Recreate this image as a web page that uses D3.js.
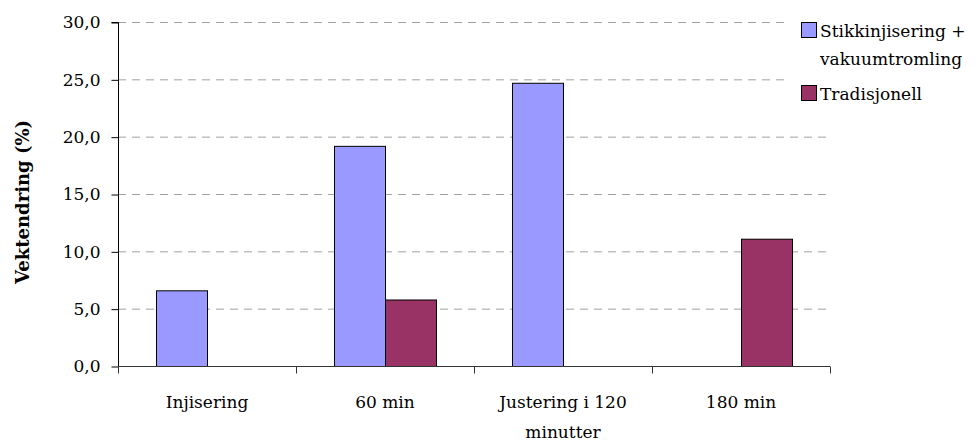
<!DOCTYPE html>
<html>
<head>
<meta charset="utf-8">
<script src="https://cdn.jsdelivr.net/npm/d3@7"></script>
<style>
  html, body { margin: 0; padding: 0; background: #fff; }
  svg { display: block; }
  svg text { font-family: "DejaVu Serif", serif !important; fill: #000; }
</style>
</head>
<body>
<svg id="chart" width="976" height="441"></svg>
<script>
// ---- data ----
const categories = ["Injisering", "60 min", "Justering i 120 minutter", "180 min"];
const seriesNames = ["Stikkinjisering + vakuumtromling", "Tradisjonell"];
const stikkValues = [6.6, 19.2, 24.7, null];
const tradValues = [null, 5.8, null, 11.1];
const yTicks = [0, 5, 10, 15, 20, 25, 30];
const yTitle = "Vektendring (%)";

const seriesValues = [stikkValues, tradValues];
const colors = ["#9999FF", "#993366"];

const svg = d3.select("#chart");
const mLeft = 118, mRight = 830, mTop = 22, mBottom = 366;

const x = d3.scaleBand().domain(categories).range([mLeft, mRight]).paddingInner(0).paddingOuter(0);
const xs = d3.scaleBand().domain(seriesNames).range([0, x.bandwidth()]).paddingInner(0).paddingOuter(0.745);
const y = d3.scaleLinear().domain([0, 30]).range([mBottom, mTop]);

const fontSize = 17;
const ls = 0;

// gridlines
svg.append("g").selectAll("line")
  .data(yTicks.filter(d => d > 0))
  .join("line")
  .attr("x1", mLeft).attr("x2", mRight)
  .attr("y1", d => y(d) + 0.5).attr("y2", d => y(d) + 0.5)
  .attr("stroke", "#a0a0a0").attr("stroke-width", 1)
  .attr("stroke-dasharray", "8,6");

// bars
const data = [];
categories.forEach((c, i) => {
  seriesNames.forEach((s, j) => {
    const v = seriesValues[j][i];
    if (v != null) data.push({c, s, v, j});
  });
});
svg.append("g").selectAll("rect")
  .data(data)
  .join("rect")
  .attr("x", d => x(d.c) + xs(d.s) + 0.5)
  .attr("y", d => y(d.v) + 0.5)
  .attr("width", xs.bandwidth())
  .attr("height", d => y(0) - y(d.v))
  .attr("fill", d => colors[d.j])
  .attr("stroke", "#000").attr("stroke-width", 1);

// y axis
const yAxis = d3.axisLeft(y).tickValues(yTicks).tickSize(7).tickPadding(11)
  .tickFormat(d => d3.format(".1f")(d).replace(".", ","));
const gy = svg.append("g").attr("transform", `translate(${mLeft + 0.5},0.5)`).call(yAxis);
gy.attr("font-family", null);
gy.select(".domain").attr("stroke", "#000").attr("d", `M-7,${mTop}H0V${mBottom}`);
gy.selectAll(".tick line").attr("stroke", "#000");
gy.selectAll(".tick text")
  .style("font-size", fontSize + "px")
  .style("letter-spacing", ls + "px")
  .attr("fill", "#000");

// x axis
const xAxisG = svg.append("g").attr("transform", `translate(0,${mBottom + 0.5})`);
xAxisG.append("line").attr("x1", mLeft).attr("x2", mRight).attr("stroke", "#333");
const boundaries = categories.map(c => x(c)).concat([mRight]);
xAxisG.selectAll(".xt").data(boundaries).join("line")
  .attr("class", "xt")
  .attr("x1", d => Math.round(d) + 0.5).attr("x2", d => Math.round(d) + 0.5)
  .attr("y1", 0).attr("y2", 7).attr("stroke", "#333");

function wrapLines(text, maxW, style) {
  const tmp = svg.append("text").style("font-size", style.size + "px").style("letter-spacing", style.ls + "px");
  const words = text.split(" ");
  const lines = [];
  let cur = "";
  words.forEach(w => {
    const test = cur ? cur + " " + w : w;
    tmp.text(test);
    if (tmp.node().getComputedTextLength() > maxW && cur) {
      lines.push(cur); cur = w;
    } else cur = test;
  });
  if (cur) lines.push(cur);
  tmp.remove();
  return lines;
}

categories.forEach(c => {
  const lines = wrapLines(c, x.bandwidth() - 8, {size: fontSize, ls});
  const t = svg.append("text")
    .attr("text-anchor", "middle")
    .style("font-size", fontSize + "px")
    .style("letter-spacing", ls + "px");
  lines.forEach((l, i) => {
    t.append("tspan").attr("x", x(c) + x.bandwidth() / 2).attr("y", 408 + i * 30).text(l);
  });
});

// y title
svg.append("text")
  .attr("transform", `translate(29,${(mTop + mBottom) / 2 + 8}) rotate(-90)`)
  .attr("text-anchor", "middle")
  .style("font-size", "18px")
  .style("font-weight", "bold")
  .text(yTitle);

// legend
const lg = svg.append("g");
lg.append("rect").attr("x", 788).attr("y", 8).attr("width", 188).attr("height", 110).attr("fill", "#fff");
let ly = 37;
seriesNames.forEach((s, j) => {
  const lines = wrapLines(s, 158, {size: fontSize, ls});
  lg.append("rect")
    .attr("x", 801.5).attr("y", ly - 15 + 0.5)
    .attr("width", 15).attr("height", 15)
    .attr("fill", colors[j]).attr("stroke", "#000").attr("stroke-width", 1);
  const t = lg.append("text").style("font-size", fontSize + "px").style("letter-spacing", ls + "px");
  lines.forEach((l, i) => {
    t.append("tspan").attr("x", 820).attr("y", ly + i * 28).text(l);
  });
  ly += lines.length * 28 + 7;
});
</script>
</body>
</html>
